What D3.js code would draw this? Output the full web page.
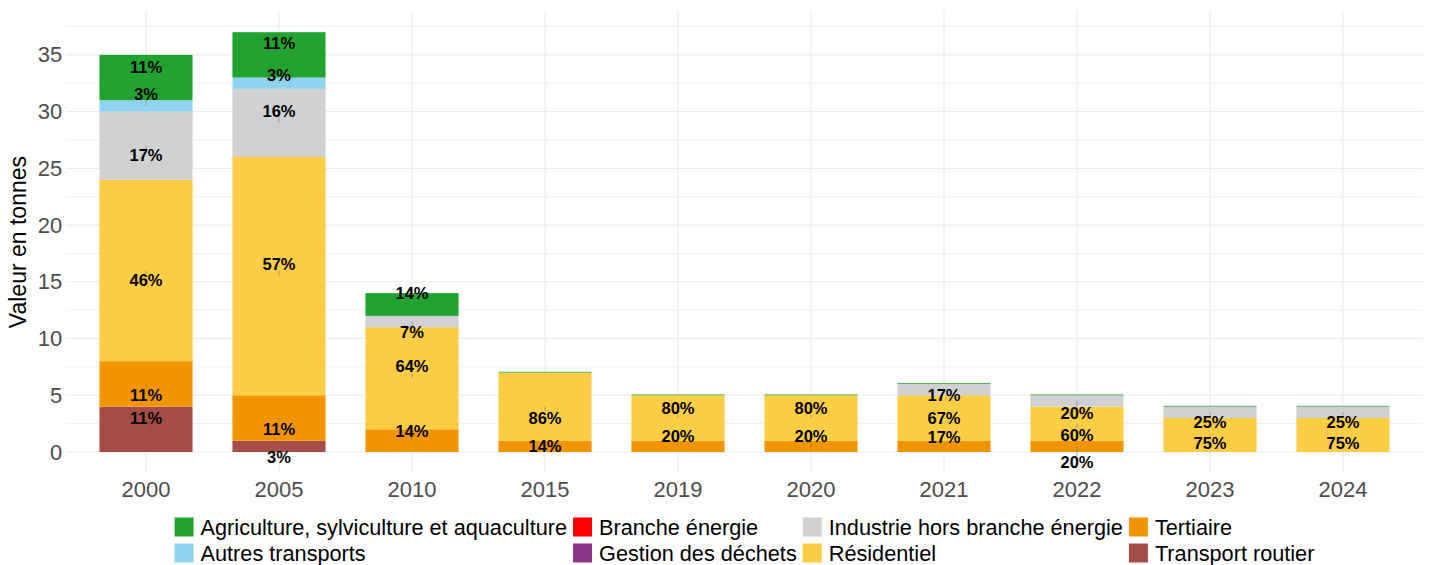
<!DOCTYPE html>
<html>
<head>
<meta charset="utf-8">
<script src="https://cdn.jsdelivr.net/npm/d3@7"></script>
<style>
  html, body { margin: 0; padding: 0; background: #ffffff; }
  svg { display: block; font-family: "Liberation Sans", Arial, sans-serif; }
</style>
</head>
<body>
<svg id="chart" width="1435" height="565"></svg>
<script>
// ---------------- DATA ----------------
const years = ["2000", "2005", "2010", "2015", "2019", "2020", "2021", "2022", "2023", "2024"];

// legend order (alphabetical)
const sectors = [
  "Agriculture, sylviculture et aquaculture",
  "Autres transports",
  "Branche énergie",
  "Gestion des déchets",
  "Industrie hors branche énergie",
  "Résidentiel",
  "Tertiaire",
  "Transport routier"
];

const sectorColors = ["#21a330", "#8fd3f0", "#ff0000", "#8f3589", "#d0d1d3", "#fecd46", "#f29400", "#a64d47"];

// values in tonnes, one per year
const agriculture  = [4, 4, 2, 0.07, 0.07, 0.07, 0.07, 0.07, 0.07, 0.07];
const autresTransp = [1, 1, 0, 0, 0, 0, 0, 0, 0, 0];
const brancheEnerg = [0, 0, 0, 0, 0, 0, 0, 0, 0, 0];
const gestionDech  = [0, 0, 0, 0, 0, 0, 0, 0, 0, 0];
const industrie    = [6, 6, 1, 0, 0, 0, 1, 1, 1, 1];
const residentiel  = [16, 21, 9, 6, 4, 4, 4, 3, 3, 3];
const tertiaire    = [4, 4, 2, 1, 1, 1, 1, 1, 0, 0];
const transportRt  = [4, 1, 0, 0, 0, 0, 0, 0, 0, 0];

// outcome of the label repulsion (direction of displacement from the anchor,
// in label-heights: + above, - below)
const repelAgri   = [1, 1.1, 1, 0, 0, 0, 0, 0, 0, 0];
const repelAutres = [1.1, 0.7, 0, 0, 0, 0, 0, 0, 0, 0];
const repelInd    = [-0.9, 1.1, -1, 0, 0, 0, -0.5, -1.1, -0.9, -0.9];
const repelRes    = [-0.9, 1.1, 1.1, -1, 0.9, 0.9, 0, -1, -0.7, -0.7];
const repelTert   = [-1, -1, 0.9, 0, 0.9, 0.9, 0.8, -1.45, 0, 0];
const repelTransp = [1, -1, 0, 0, 0, 0, 0, 0, 0, 0];

const yTicks = [0, 5, 10, 15, 20, 25, 30, 35];
const yMinor = [2.5, 7.5, 12.5, 17.5, 22.5, 27.5, 32.5, 37.5];
const yTitle = "Valeur en tonnes";

// ---------------- BUILD ----------------
const seriesValues = [agriculture, autresTransp, brancheEnerg, gestionDech, industrie, residentiel, tertiaire, transportRt];
const seriesRepel  = [repelAgri, repelAutres, null, null, repelInd, repelRes, repelTert, repelTransp];

const rows = years.map((yr, i) => {
  const r = { year: yr };
  sectors.forEach((s, k) => { r[s] = seriesValues[k][i]; });
  return r;
});
const colorOf = d3.scaleOrdinal().domain(sectors).range(sectorColors);
const stackKeys = sectors.slice().reverse(); // first legend entry on top
const stacked = d3.stack().keys(stackKeys)(rows);

const W = 1435, H = 565;
const panel = { left: 66.2, right: 1422.8, top: 11.2, bottom: 473 };

const totals = rows.map(r => d3.sum(sectors, s => r[s]));
const maxTot = d3.max(totals);
const pad = maxTot * 0.05;

const x = d3.scaleBand().domain(years).range([panel.left, panel.right]).paddingInner(0.3).paddingOuter(0.25);
const y = d3.scaleLinear().domain([-pad, maxTot + pad]).range([panel.bottom, panel.top]);

const svg = d3.select("#chart");

// grid
const grid = svg.append("g");
grid.selectAll("line.minor").data(yMinor.filter(v => v <= maxTot + pad)).join("line")
  .attr("x1", panel.left).attr("x2", panel.right)
  .attr("y1", d => y(d)).attr("y2", d => y(d))
  .attr("stroke", "#f0f0f0").attr("stroke-width", 1);
grid.selectAll("line.major").data(yTicks).join("line")
  .attr("x1", panel.left).attr("x2", panel.right)
  .attr("y1", d => y(d)).attr("y2", d => y(d))
  .attr("stroke", "#ebebeb").attr("stroke-width", 1.1);
grid.selectAll("line.vert").data(years).join("line")
  .attr("x1", d => x(d) + x.bandwidth() / 2).attr("x2", d => x(d) + x.bandwidth() / 2)
  .attr("y1", panel.top).attr("y2", panel.bottom)
  .attr("stroke", "#ebebeb").attr("stroke-width", 1.1);

// bars
const barG = svg.append("g");
stacked.forEach(layer => {
  barG.append("g").attr("fill", colorOf(layer.key))
    .selectAll("rect").data(layer.filter(d => d[1] - d[0] > 0)).join("rect")
    .attr("x", d => x(d.data.year))
    .attr("width", x.bandwidth())
    .attr("y", d => y(d[1]))
    .attr("height", d => y(d[0]) - y(d[1]));
});

// percentage labels (percent of rounded tonnes)
const labelSize = 16.5;
const shiftPx = 11;
const labG = svg.append("g");
years.forEach((yr, i) => {
  const rounded = sectors.map((s, k) => Math.round(seriesValues[k][i]));
  const tot = d3.sum(rounded);
  stacked.forEach(layer => {
    const k = sectors.indexOf(layer.key);
    const r = Math.round(seriesValues[k][i]);
    if (r <= 0) return;
    const d = layer[i];
    const cx = x(yr) + x.bandwidth() / 2;
    const ay = y((d[0] + d[1]) / 2);
    const rep = seriesRepel[k] ? seriesRepel[k][i] : 0;
    const ty = ay - rep * shiftPx;
    // repel segment
    const half = 6.5;
    if (Math.abs(ty - ay) > half + 1) {
      const edge = ty > ay ? ty - half : ty + half;
      labG.append("line").attr("x1", cx).attr("x2", cx)
        .attr("y1", ay).attr("y2", edge)
        .attr("stroke", "#7f7f7f").attr("stroke-width", 0.8).attr("stroke-opacity", 0.8);
    }
    labG.append("text")
      .attr("x", cx).attr("y", ty).attr("dy", "0.36em")
      .attr("text-anchor", "middle")
      .attr("font-size", labelSize).attr("font-weight", "bold")
      .attr("fill", "#000")
      .text(Math.round(100 * r / tot) + "%");
  });
});

// axes (text only, theme_minimal)
const yAxis = svg.append("g").attr("transform", `translate(${panel.left},0)`)
  .call(d3.axisLeft(y).tickValues(yTicks).tickSize(0).tickPadding(4));
yAxis.select(".domain").remove();
yAxis.selectAll("text").attr("font-size", 22).attr("fill", "#4d4d4d")
  .attr("font-family", '"Liberation Sans", Arial, sans-serif');

const xAxis = svg.append("g").attr("transform", `translate(0,${panel.bottom})`)
  .call(d3.axisBottom(x).tickSize(0).tickPadding(8));
xAxis.select(".domain").remove();
xAxis.selectAll("text").attr("font-size", 22).attr("fill", "#4d4d4d")
  .attr("font-family", '"Liberation Sans", Arial, sans-serif');

svg.append("text")
  .attr("transform", `translate(26,${(panel.top + panel.bottom) / 2}) rotate(-90)`)
  .attr("text-anchor", "middle")
  .attr("font-size", 23).attr("fill", "#000")
  .text(yTitle);

// legend: 2 rows, filled by column, centred on the panel
const legFont = 21.7, keySize = 19, keyGap = 7, colGap = 6;
const legRows = [527, 553];
const nCols = Math.ceil(sectors.length / 2);
const leg = svg.append("g");
const measure = leg.append("text").attr("font-size", legFont);
const colW = [];
for (let c = 0; c < nCols; c++) {
  let m = 0;
  for (let r = 0; r < 2; r++) {
    const s = sectors[c * 2 + r];
    if (s) { measure.text(s); m = Math.max(m, measure.node().getComputedTextLength()); }
  }
  colW.push(keySize + keyGap + m + colGap);
}
measure.remove();
const totalW = d3.sum(colW) - colGap;
let cx0 = (panel.left + panel.right) / 2 - totalW / 2;
for (let c = 0; c < nCols; c++) {
  for (let r = 0; r < 2; r++) {
    const s = sectors[c * 2 + r];
    if (!s) continue;
    leg.append("rect").attr("x", cx0).attr("y", legRows[r] - keySize / 2)
      .attr("width", keySize).attr("height", keySize).attr("fill", colorOf(s));
    leg.append("text").attr("x", cx0 + keySize + keyGap).attr("y", legRows[r]).attr("dy", "0.36em")
      .attr("font-size", legFont).attr("fill", "#000").text(s);
  }
  cx0 += colW[c];
}
</script>
</body>
</html>
